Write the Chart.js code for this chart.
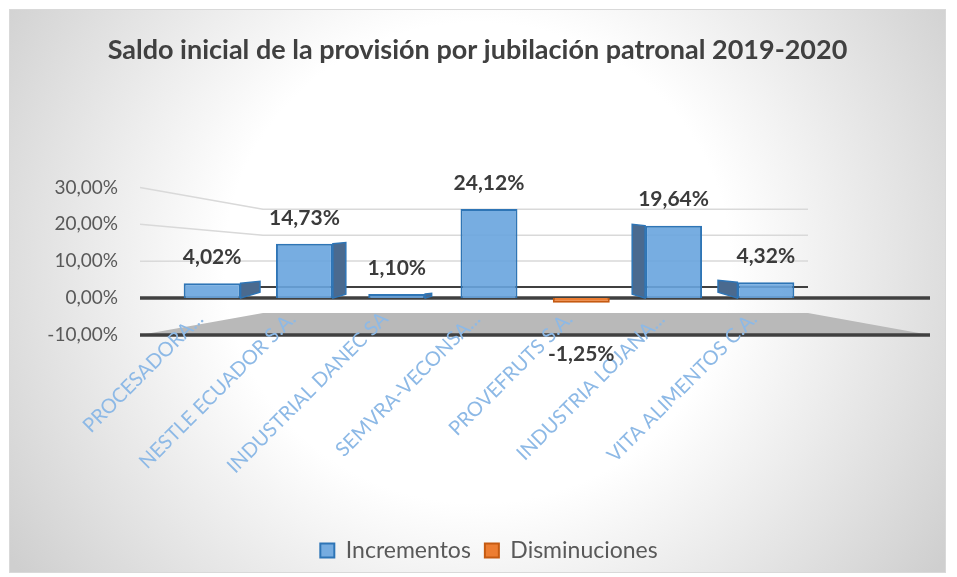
<!DOCTYPE html>
<html>
<head>
<meta charset="utf-8">
<title>Saldo inicial de la provisión por jubilación patronal 2019-2020</title>
<script src="https://cdn.jsdelivr.net/npm/chart.js@4.4.1/dist/chart.umd.min.js"></script>
<style>
    body { margin: 0; background: #ffffff; }
    #marco {
        position: absolute; left: 10px; top: 10px; width: 935px; height: 562px;
        box-shadow: 0 0 0 1px #d9d9d9;
        background: radial-gradient(ellipse 60% 95% at 50% 45%, #ffffff 45%, #cfcfcf 100%);
    }
</style>
</head>
<body>
<div id="marco"><canvas id="telaGrafico"></canvas></div>
<script>
// Datos del gráfico
const empresas = [
    'PROCESADORA...',
    'NESTLE ECUADOR S.A.',
    'INDUSTRIAL DANEC SA',
    'SEMVRA-VECONSA...',
    'PROVEFRUTS S.A.',
    'INDUSTRIA LOJANA...',
    'VITA ALIMENTOS C.A.'
];
const incrementos = [4.02, 14.73, 1.10, 24.12, null, 19.64, 4.32];
const disminuciones = [null, null, null, null, -1.25, null, null];
const ticksEjeY = [-10, 0, 10, 20, 30];

const fuente = 'Lato, "Open Sans", sans-serif';

function formatoPorcentaje(v) {
    return v.toFixed(2).replace('.', ',') + '%';
}

// pared del fondo: misma escala pero comprimida (efecto 3D)
function yFondo(escala, v) {
    const y0 = escala.getPixelForValue(0);
    return y0 - 11 + (escala.getPixelForValue(v) - y0) * 0.704;
}

// Piso gris, líneas de división y ejes "3D" (antes de los ejes para que las etiquetas queden encima)
const pisoYParedes = {
    id: 'pisoYParedes',
    afterLayout(chart) {
        // las etiquetas del eje x suben sobre el piso: sin recorte
        chart.scales.x._computeLabelArea = function () { return undefined; };
    },
    beforeDraw(chart) {
        const ctx = chart.ctx;
        const area = chart.chartArea;
        const esc = chart.scales.y;
        const izq = area.left - 26, der = area.right + 118;
        const fondoIzq = area.left + 97, fondoDer = area.right - 4;
        const yMin = esc.getPixelForValue(ticksEjeY[0]);

        ctx.save();
        // piso
        ctx.fillStyle = '#b9b9b9';
        ctx.beginPath();
        ctx.moveTo(izq, yMin);
        ctx.lineTo(fondoIzq, yFondo(esc, ticksEjeY[0]));
        ctx.lineTo(fondoDer, yFondo(esc, ticksEjeY[0]));
        ctx.lineTo(der, yMin);
        ctx.closePath();
        ctx.fill();

        // líneas de división
        ticksEjeY.forEach(function (v) {
            if (v <= 0) return;
            ctx.strokeStyle = '#d9d9d9';
            ctx.lineWidth = 1.5;
            ctx.beginPath();
            ctx.moveTo(izq, esc.getPixelForValue(v));
            ctx.lineTo(fondoIzq, yFondo(esc, v));
            ctx.lineTo(fondoDer, yFondo(esc, v));
            ctx.stroke();
        });

        // línea cero del fondo
        ctx.strokeStyle = '#404040';
        ctx.lineWidth = 2;
        ctx.beginPath();
        ctx.moveTo(fondoIzq - 13, yFondo(esc, 0));
        ctx.lineTo(fondoDer, yFondo(esc, 0));
        ctx.stroke();

        // líneas gruesas del frente (0 y mínimo)
        ctx.lineWidth = 3.5;
        [0, ticksEjeY[0]].forEach(function (v) {
            const y = esc.getPixelForValue(v);
            ctx.beginPath();
            ctx.moveTo(izq, y);
            ctx.lineTo(der, y);
            ctx.stroke();
        });

        // caras laterales de las columnas
        const centro = (area.left + area.right) / 2;
        chart.data.datasets.forEach(function (ds, i) {
            if (i !== 0) return;
            chart.getDatasetMeta(i).data.forEach(function (el, j) {
                if (ds.data[j] === null) return;
                const p = el.getProps(['x', 'y', 'base', 'width'], true);
                const lado = (centro - p.x) * 0.07;
                if (Math.abs(lado) < 2) return;
                const borde = lado > 0 ? p.x + p.width / 2 : p.x - p.width / 2;
                ctx.fillStyle = '#4a6a8f';
                ctx.strokeStyle = '#2e75b6';
                ctx.lineWidth = 1.5;
                ctx.beginPath();
                ctx.moveTo(borde, p.y);
                ctx.lineTo(borde + lado, p.y - Math.abs(lado) * 0.1);
                ctx.lineTo(borde + lado, p.base - Math.abs(lado) * 0.3);
                ctx.lineTo(borde, p.base);
                ctx.closePath();
                ctx.fill();
                ctx.stroke();
            });
        });
        ctx.restore();
    }
};

// Etiquetas de datos
const etiquetasDatos = {
    id: 'etiquetasDatos',
    afterDatasetsDraw(chart) {
        const ctx = chart.ctx;
        ctx.save();
        ctx.font = 'bold 21px ' + fuente;
        ctx.fillStyle = '#3b3b3b';
        ctx.textAlign = 'center';
        ctx.textBaseline = 'middle';
        chart.data.datasets.forEach(function (ds, i) {
            chart.getDatasetMeta(i).data.forEach(function (el, j) {
                const v = ds.data[j];
                if (v === null) return;
                const y = v >= 0 ? el.y - 26 : el.y + 52;
                ctx.fillText(formatoPorcentaje(v), el.x, y);
            });
        });
        ctx.restore();
    }
};

const dados = {
    labels: empresas,
    datasets: [{
        label: 'Incrementos',
        data: incrementos,
        backgroundColor: 'rgba(104,164,222,0.9)',
        borderColor: '#2e75b6',
        borderWidth: 2
    }, {
        label: 'Disminuciones',
        data: disminuciones,
        backgroundColor: '#ed7d31',
        borderColor: '#c55a11',
        borderWidth: 2
    }]
};

const config = {
    type: 'bar',
    data: dados,
    plugins: [pisoYParedes, etiquetasDatos],
    options: {
        responsive: true,
        maintainAspectRatio: false,
        animation: false,
        layout: { padding: 0 },
        datasets: {
            bar: { categoryPercentage: 0.617, barPercentage: 1 }
        },
        plugins: {
            title: {
                display: true,
                text: 'Saldo inicial de la provisión por jubilación patronal 2019-2020',
                color: '#404040',
                font: { family: fuente, size: 27, weight: 'bold' },
                padding: { top: 24, bottom: 121 }
            },
            legend: {
                position: 'bottom',
                fullSize: false,
                labels: {
                    color: '#595959',
                    font: { family: fuente, size: 23 },
                    boxWidth: 14,
                    boxHeight: 14,
                    padding: 14
                }
            },
            tooltip: { enabled: false }
        },
        scales: {
            x: {
                stacked: true,
                grid: { display: false },
                border: { display: false },
                ticks: {
                    color: '#8db9e6',
                    font: { family: fuente, size: 20 },
                    minRotation: 45,
                    maxRotation: 45,
                    autoSkip: false,
                    padding: -36,
                    labelOffset: -12
                },
                afterFit: function (s) { s.height = 190; }
            },
            y: {
                stacked: true,
                min: -10,
                max: 30,
                grid: { display: false },
                border: { display: false },
                afterBuildTicks: function (s) {
                    s.ticks = ticksEjeY.map(function (v) { return { value: v }; });
                },
                ticks: {
                    color: '#595959',
                    font: { family: fuente, size: 19 },
                    padding: 40,
                    callback: function (v) { return formatoPorcentaje(v); }
                },
                afterFit: function (s) { s.width = 156; }
            },
            yDer: {
                position: 'right',
                display: true,
                grid: { display: false },
                border: { display: false },
                ticks: { display: false },
                afterFit: function (s) { s.width = 133; }
            }
        }
    }
};

let myChart = new Chart(document.getElementById('telaGrafico'), config);
</script>
</body>
</html>
